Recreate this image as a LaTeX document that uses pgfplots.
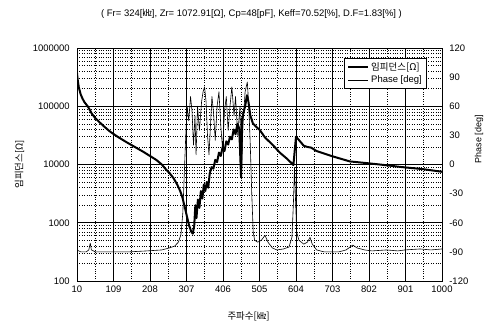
\documentclass[border=0pt]{standalone}
\usepackage{pgfplots}
\pgfplotsset{compat=1.18}
\usepackage{fontspec}
\setmainfont{Liberation Sans}
\newfontfamily\kr{Noto Sans CJK KR}
\begin{document}
\fontsize{9.5}{11}\selectfont
\begin{tikzpicture}
\begin{axis}[
 at={(0,0)}, anchor=south west,
 scale only axis, width=365bp, height=233bp,
 xmin=10, xmax=1000, ymode=log, ymin=100, ymax=1000000,
 xtick={10,109,208,307,406,505,604,703,802,901,1000},
 xticklabels={10,109,208,307,406,505,604,703,802,901,1000},
 minor xtick={59.5,158.5,257.5,356.5,455.5,554.5,653.5,752.5,851.5,950.5},
 ytick={100,1000,10000,100000,1000000},
 yticklabels={100,1000,10000,100000,1000000},
 minor ytick={200,300,400,500,600,700,800,900,2000,3000,4000,5000,6000,7000,8000,9000,20000,30000,40000,50000,60000,70000,80000,90000,200000,300000,400000,500000,600000,700000,800000,900000},
 grid=both,
 major grid style={black, line width=0.6pt},
 minor grid style={black, dotted, line width=0.5pt},
 major tick length=0pt, minor tick length=0pt,
 axis line style={black, line width=0.9pt},
 tick label style={font=\fontsize{9.5}{11}\selectfont},
 /pgf/number format/assume math mode=true,
 xticklabel style={yshift=-2bp},
 yticklabel style={xshift=-4bp},
 ylabel={\kr 임피던스[Ω]},
 ylabel style={font=\fontsize{9.5}{11}\selectfont, yshift=2bp},
 xlabel={\kr 주파수[㎑]},
 xlabel style={font=\fontsize{9.5}{11}\selectfont, yshift=-12bp, xshift=-11bp},
 title={( Fr= 324[{\kr ㎑}], Zr= 1072.91[Ω], Cp=48[pF], Keff=70.52[\%], D.F=1.83[\%] )},
 title style={font=\fontsize{9.5}{11}\selectfont, at={(0.5,1)}, anchor=south, yshift=20bp, xshift=-8bp},
]
\addplot[black, line width=2pt, line join=round] coordinates {
(10,370000)(12,280000)(15,210000)(20,160000)(25,135000)(30,118000)(40,98000)
(50,75000)(60,62000)(70,54000)(80,47000)(99,37000)(120,30000)(145,24000)
(170,19500)(190,16500)(208,14000)(225,12000)(240,10000)(253,8000)(262,7000)
(272,5800)(282,4500)(290,3500)(296,2700)(302,1900)(308,1300)(314,900)
(320,700)(324,650)(328,900)(331,2000)(334,1200)(338,2500)(342,1800)
(346,3500)(350,2600)(354,4500)(358,3500)(362,5000)(366,4000)(370,7000)
(375,9000)(380,8500)(385,12000)(390,11000)(395,16000)(400,14000)(405,20000)
(410,17000)(415,25000)(420,22000)(425,30000)(430,27000)(435,40000)(440,33000)
(445,50000)(450,42000)(455,6000)(458,60000)(462,80000)(466,100000)(471,155000)
(475,120000)(480,70000)(487,51000)(495,45000)(506,39000)(520,29000)(540,22000)
(560,16000)(580,12500)(597,9800)(604,30000)(615,25000)(625,21000)(635,20000)
(645,19500)(660,17000)(700,14000)(750,11300)(800,10500)(850,9700)(886,9100)
(950,8300)(1000,7500)
};
\end{axis}
\begin{axis}[
 at={(0,0)}, anchor=south west,
 scale only axis, width=365bp, height=233bp,
 xmin=10, xmax=1000, ymin=-120, ymax=120,
 axis y line*=right, axis x line=none,
 ytick={-120,-90,-60,-30,0,30,60,90,120},
 yticklabels={-120,-90,-60,-30,0,30,60,90,120},
 major tick length=0pt,
 axis line style={black, line width=0.9pt},
 tick label style={font=\fontsize{9.5}{11}\selectfont},
 yticklabel style={xshift=4bp},
 ylabel={Phase [deg]},
 ylabel style={font=\fontsize{9}{11}\selectfont, at={(ticklabel cs:0.6)}, xshift=2bp},
 legend style={at={(0.959,0.958)}, anchor=north east, draw=black, line width=0.6pt,
   fill=white, font=\fontsize{9.5}{11}\selectfont, inner xsep=3pt, inner ysep=2.5pt, row sep=0pt},
 legend cell align=left,
 legend image code/.code={\draw[#1] (0bp,0bp) -- (20bp,0bp);},
]
\addlegendimage{black, line width=1.8pt}
\addlegendentry{\kr 임피던스[Ω]}
\addplot[black, line width=0.6pt, line join=round] coordinates {
(10,-88)(20,-90)(35,-90)(42,-88)(46,-81)(49,-88)(60,-90)(100,-90)(150,-90)
(200,-89)(240,-88)(260,-86)(275,-84)(285,-80)(292,-72)(297,-50)(301,-10)
(305,30)(309,60)(313,45)(318,70)(322,55)(326,20)(330,50)(333,10)(337,60)
(342,35)(348,65)(352,75)(356,80)(360,65)(364,30)(368,10)(372,40)(376,70)
(380,55)(385,25)(390,60)(395,75)(400,40)(405,15)(410,55)(415,70)(420,35)
(425,60)(430,80)(436,50)(440,70)(446,30)(452,60)(456,-15)(460,40)(466,75)
(472,85)(476,60)(480,20)(484,-30)(488,-70)(492,-78)(500,-80)(510,-78)
(520,-73)(528,-80)(540,-86)(552,-88)(570,-87)(585,-85)(593,-75)(597,-40)
(600,-3)(603,-40)(606,-70)(612,-78)(625,-82)(635,-80)(642,-75)(648,-82)
(660,-88)(680,-90)(720,-90)(740,-88)(758,-83)(770,-86)(790,-88)(810,-89)
(850,-88)(880,-89)(900,-88)(940,-87)(970,-88)(1000,-87)
};
\addlegendentry{Phase [deg]}
\end{axis}
\pgfresetboundingbox
\path[use as bounding box] (-77bp,-48bp) rectangle (415bp,281bp);
\end{tikzpicture}
\end{document}
